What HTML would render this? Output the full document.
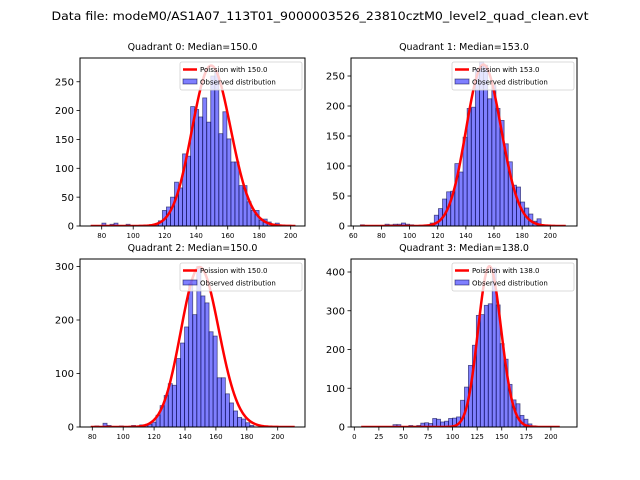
<!DOCTYPE html>
<html><head><meta charset="utf-8">
<style>
html,body{margin:0;padding:0;background:#fff;}
svg{display:block;font-family:"DejaVu Sans","Liberation Sans",sans-serif;}
</style></head>
<body>
<svg id="fig" width="640" height="480" viewBox="0 0 640 480" xmlns="http://www.w3.org/2000/svg">
<rect x="0" y="0" width="640" height="480" fill="#fff"/>
<text x="320" y="20" font-size="11.5" text-anchor="middle" textLength="537" lengthAdjust="spacingAndGlyphs">Data file: modeM0/AS1A07_113T01_9000003526_23810cztM0_level2_quad_clean.evt</text>
</svg>
<script>
// ---- data ----
const quadrantTitles = ["Quadrant 0: Median=150.0","Quadrant 1: Median=153.0","Quadrant 2: Median=150.0","Quadrant 3: Median=138.0"];
const medians = [150.0, 153.0, 150.0, 138.0];
const binStarts = [75, 65, 79, 7];
const binWidths = [2.56, 2.92, 2.64, 4.04];
const q0Counts = [0,0,5,0,3,5,0,0,3,0,0,0,0,0,0,2,9,27,33,50,76,66,125,121,207,202,189,222,180,260,268,160,198,151,111,111,70,70,42,27,27,10,12,7,3,5,1,0,0,0];
const q1Counts = [2,0,0,0,0,0,3,2,3,3,5,3,2,1,1,0,2,5,18,29,45,57,58,104,90,148,196,198,262,273,268,212,234,196,176,137,107,68,65,40,30,20,8,12,1,0,0,0,0,0];
const q2Counts = [0,2,0,7,3,0,0,2,0,0,3,0,4,4,5,9,22,40,59,81,78,128,157,187,268,210,300,245,232,178,170,92,92,62,45,30,18,15,8,3,0,0,0,0,0,0,0,0,0,0];
const q3Counts = [0,0,0,0,0,0,0,0,6,6,0,0,4,2,4,10,11,9,22,20,13,15,22,23,26,69,103,159,211,288,290,314,318,410,315,215,175,110,70,60,30,20,8,3,1,0,0,0,0,0];
const poissonScale = [8535, 8341, 9180, 12220];
const curveRanges = [[73,203],[65,211],[79,211],[7,209]];
const xTicks = [[80,100,120,140,160,180,200],[60,80,100,120,140,160,180,200],[80,100,120,140,160,180,200],[0,25,50,75,100,125,150,175,200]];
const yTicks = [[0,50,100,150,200,250],[0,50,100,150,200,250],[0,100,200,300],[0,100,200,300,400]];

// ---- layout ----
const axes = [
 {L:80,R:305,T:58,B:226,x0:101.7,xv0:80,xs:1.575,ys:0.577},
 {L:351,R:577,T:58,B:226,x0:353.3,xv0:60,xs:1.407,ys:0.6},
 {L:80,R:305,T:259,B:427,x0:92.3,xv0:80,xs:1.545,ys:0.535},
 {L:351,R:577,T:259,B:427,x0:354.3,xv0:0,xs:0.983,ys:0.3875}
];
const allCounts=[q0Counts,q1Counts,q2Counts,q3Counts];
const NS="http://www.w3.org/2000/svg";
const fig=document.getElementById('fig');
function mk(tag,attrs,parent){const e=document.createElementNS(NS,tag);for(const k in attrs)e.setAttribute(k,attrs[k]);(parent||fig).appendChild(e);return e;}
function logPmf(k,lam){let lf=0;for(let i=2;i<=k;i++)lf+=Math.log(i);return k*Math.log(lam)-lam-lf;}

axes.forEach((a,q)=>{
 const X=v=>a.x0+(v-a.xv0)*a.xs;
 const Y=c=>a.B-c*a.ys;
 const g=mk('g',{});
 
 
 // clip
 const cp=mk('clipPath',{id:'cp'+q},g);
 mk('rect',{x:a.L,y:a.T,width:a.R-a.L,height:a.B-a.T},cp);
 const plot=mk('g',{'clip-path':'url(#cp'+q+')'},g);
 // bars
 const counts=allCounts[q];
 counts.forEach((c,i)=>{
  if(c<=0)return;
  const x1=X(binStarts[q]+i*binWidths[q]), x2=X(binStarts[q]+(i+1)*binWidths[q]);
  const r=mk('rect',{x:x1,y:Y(c),width:x2-x1,height:Y(0)-Y(c),fill:'rgba(0,0,255,0.5)',stroke:'rgba(0,0,60,0.6)','stroke-width':0.8},plot);
  
  
 });
 // poisson curve
 let d='';
 for(let k=curveRanges[q][0];k<=curveRanges[q][1];k++){
  const y=poissonScale[q]*Math.exp(logPmf(k,medians[q]));
  d+=(d?'L':'M')+X(k).toFixed(2)+','+Y(y).toFixed(2);
 }
 const ln=mk('path',{d:d,fill:'none',stroke:'#ff0000','stroke-width':2.5,'stroke-linejoin':'round'},plot);
 
 
 // frame
 mk('rect',{x:a.L,y:a.T,width:a.R-a.L,height:a.B-a.T,fill:'none',stroke:'#000','stroke-width':1},g);
 // ticks
 xTicks[q].forEach(v=>{
  const x=X(v);
  mk('line',{x1:x,x2:x,y1:a.B,y2:a.B+3.5,stroke:'#000','stroke-width':0.8},g);
  const t=mk('text',{x:x,y:a.B+12,'font-size':7,'text-anchor':'middle',fill:'#000'},g);
  t.textContent=v;
  
  
 });
 yTicks[q].forEach(v=>{
  const y=Y(v);
  mk('line',{x1:a.L-3.5,x2:a.L,y1:y,y2:y,stroke:'#000','stroke-width':0.8},g);
  const t=mk('text',{x:a.L-6,y:y+3.6,'font-size':10,'text-anchor':'end',fill:'#000'},g);
  t.textContent=v;
  
  
 });
 // title
 const tt=mk('text',{x:(a.L+a.R)/2,y:a.T-8,'font-size':9.5,'text-anchor':'middle',fill:'#000'},g);
 tt.textContent=quadrantTitles[q];
 
 
 // legend
 const lg=mk('g',{},g);
 
 
 const lx=a.R-125, ly=a.T+4;
 mk('rect',{x:lx,y:ly,width:122,height:28,rx:2,fill:'rgba(255,255,255,0.8)',stroke:'#d0d0d0','stroke-width':0.8},lg);
 mk('line',{x1:lx+3,x2:lx+17,y1:ly+7.5,y2:ly+7.5,stroke:'#ff0000','stroke-width':2.5},lg);
 mk('rect',{x:lx+3,y:ly+17,width:14,height:5,fill:'rgba(0,0,255,0.5)',stroke:'rgba(0,0,60,0.6)','stroke-width':0.8},lg);
 const t1=mk('text',{x:lx+20,y:ly+10,'font-size':7,fill:'#000'},lg);
 t1.textContent='Poission with '+medians[q].toFixed(1);
 
 
 const t2=mk('text',{x:lx+20,y:ly+22.5,'font-size':7,fill:'#000'},lg);
 t2.textContent='Observed distribution';
 
 
});
</script>
</body></html>
